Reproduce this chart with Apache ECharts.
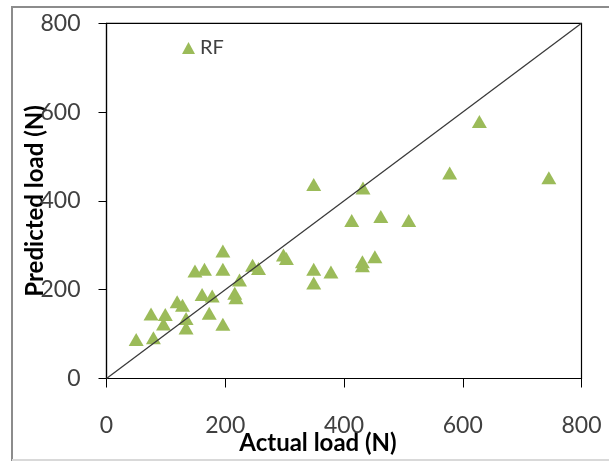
<!DOCTYPE html>
<html>
<head>
<meta charset="utf-8">
<script src="https://cdn.jsdelivr.net/npm/echarts@6/dist/echarts.min.js"></script>
<style>
  html, body { margin: 0; padding: 0; background: #fff; }
  #chart { width: 609px; height: 462px; }
</style>
</head>
<body>
<div id="chart"></div>
<script>
// actual vs predicted load
var actualLoad = [50, 79, 75, 99, 96, 134, 119, 128, 134, 173, 196, 161, 178, 216, 218, 224,
                  149, 165, 196, 196, 246, 256, 298, 303, 349, 432, 628, 578, 745, 413, 462, 509,
                  349, 378, 349, 431, 431, 452];
var predictedLoad = [88, 92, 145, 144, 123, 114, 173, 165, 135, 147, 122, 189, 186, 192, 182, 222,
                     242, 246, 246, 287, 255, 248, 278, 270, 437, 429, 579, 463, 452, 356, 365, 356,
                     246, 240, 215, 263, 254, 274];
var axisTicks = [0, 200, 400, 600, 800];
var idealLine = [0, 800];

var points = [];
for (var i = 0; i < actualLoad.length; i++) {
    points.push([actualLoad[i], predictedLoad[i]]);
}

var chart = echarts.init(document.getElementById('chart'));
var font = 'Lato, "Open Sans", sans-serif';

chart.setOption({
    animation: false,
    textStyle: { fontFamily: font },
    graphic: [{
        type: 'rect',
        shape: { x: 12, y: 7, width: 620, height: 453 },
        style: { fill: 'none', stroke: '#8c8c8c', lineWidth: 2 }
    }, {
        type: 'line',
        shape: { x1: 12, y1: 460, x2: 609, y2: 460 },
        style: { stroke: '#d9d9d9', lineWidth: 2 }
    }],
    grid: {
        left: 106.5, right: 27.5, top: 23.3, bottom: 83.5,
        outerBoundsMode: 'none',
        show: true, borderColor: '#000', borderWidth: 1.2
    },
    legend: {
        left: 177, top: 33,
        itemWidth: 13, itemHeight: 12, itemGap: 6,
        textStyle: { fontSize: 20, color: '#404040', fontFamily: font },
        data: [{ name: 'RF', icon: 'triangle' }]
    },
    xAxis: {
        type: 'value', min: axisTicks[0], max: axisTicks[axisTicks.length - 1], interval: 200,
        name: 'Actual load (N)', nameLocation: 'middle', nameGap: 53, nameMoveOverlap: false,
        nameTextStyle: { fontSize: 24, fontWeight: 'bold', color: '#000', padding: [0, 52, 0, 0] },
        axisLine: { lineStyle: { color: '#000', width: 1.2 } },
        axisTick: { show: true, length: 9, lineStyle: { color: '#000' } },
        axisLabel: { fontSize: 23, color: '#404040', margin: 36 },
        splitLine: { show: false }
    },
    yAxis: {
        type: 'value', min: axisTicks[0], max: axisTicks[axisTicks.length - 1], interval: 200,
        name: 'Predicted load (N)', nameLocation: 'middle', nameGap: 59, nameMoveOverlap: false,
        nameTextStyle: { fontSize: 24, fontWeight: 'bold', color: '#000' },
        axisLine: { show: true, lineStyle: { color: '#000', width: 1.2 } },
        axisTick: { show: true, length: 8, lineStyle: { color: '#000' } },
        axisLabel: { fontSize: 23, color: '#404040', margin: 26 },
        splitLine: { show: false }
    },
    series: [{
        name: 'ideal',
        type: 'line',
        data: [[idealLine[0], idealLine[0]], [idealLine[1], idealLine[1]]],
        symbol: 'none',
        lineStyle: { color: '#3a3a3a', width: 1.3 },
        z: 3
    }, {
        name: 'RF',
        type: 'scatter',
        data: points,
        symbol: 'triangle',
        symbolSize: [15, 13],
        itemStyle: { color: '#9bbb59', opacity: 1 },
        z: 2
    }]
});
</script>
</body>
</html>
